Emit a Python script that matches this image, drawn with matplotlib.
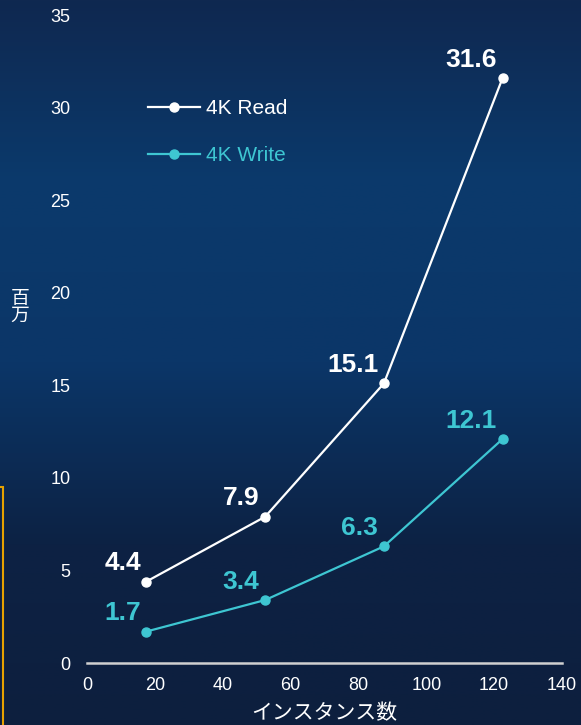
import numpy as np
import matplotlib.pyplot as plt
from matplotlib.colors import LinearSegmentedColormap
from matplotlib.patches import Rectangle

plt.rcParams['font.family'] = ['Liberation Sans', 'Noto Sans CJK JP', 'DejaVu Sans']

# data
instances = [17.5, 52.5, 87.5, 122.5]
read_vals = [4.4, 7.9, 15.1, 31.6]
write_vals = [1.7, 3.4, 6.3, 12.1]
series_names = ['4K Read', '4K Write']
x_ticks = [0, 20, 40, 60, 80, 100, 120, 140]
y_ticks = [0, 5, 10, 15, 20, 25, 30, 35]

read_color = 'white'
write_color = '#3ec6d2'

fig = plt.figure(figsize=(5.81, 7.25), dpi=100)

# background gradient
bg = fig.add_axes([0, 0, 1, 1], zorder=-10)
cmap = LinearSegmentedColormap.from_list('bg', ['#0f2850', '#0b3a6c', '#0b3668', '#0d2244', '#0d1f3e'])
grad = np.linspace(0, 1, 256).reshape(-1, 1)
bg.imshow(grad, aspect='auto', cmap=cmap, extent=[0, 1, 0, 1])
bg.axis('off')

# partial orange frame at the left edge
fig.patches.append(Rectangle((-0.02, -0.02), 0.025, 0.328 + 0.02, transform=fig.transFigure,
                             fill=False, edgecolor='#e6a100', linewidth=1.5))

ax = fig.add_axes([87 / 581, 1 - 663 / 725, 475 / 581, 648 / 725])
ax.patch.set_alpha(0)

ax.plot(instances, read_vals, color=read_color, lw=1.6, marker='o', ms=6.5, label=series_names[0])
ax.plot(instances, write_vals, color=write_color, lw=1.6, marker='o', ms=6.5, label=series_names[1])

for x, y in zip(instances, read_vals):
    ax.annotate(f'{y}', (x, y), xytext=(-4, 4.5), textcoords='offset points',
                ha='right', va='bottom', color=read_color, fontsize=19, fontweight='bold')
for x, y in zip(instances, write_vals):
    ax.annotate(f'{y}', (x, y), xytext=(-4, 4.5), textcoords='offset points',
                ha='right', va='bottom', color=write_color, fontsize=19, fontweight='bold')

ax.set_xlim(0, 140)
ax.set_ylim(0, 35)
ax.set_xticks(x_ticks)
ax.set_yticks(y_ticks)
ax.tick_params(axis='both', length=0, colors='white', labelsize=13)
ax.tick_params(axis='x', pad=10)
ax.tick_params(axis='y', pad=12)
ax.set_xticks([0], minor=True)
ax.tick_params(axis='x', which='minor', direction='in', length=4, width=1.5, color='#d0d0d0')

for s in ['top', 'right', 'left']:
    ax.spines[s].set_visible(False)
ax.spines['bottom'].set_color('#d0d0d0')
ax.spines['bottom'].set_linewidth(1.8)

ax.set_xlabel('インスタンス数', color='white', fontsize=15, labelpad=7)
fig.text(20 / 581, 1 - 308 / 725, '百\n万', color='white', fontsize=13.5,
         ha='center', va='center', linespacing=1.0)

leg = ax.legend(loc='upper left', bbox_to_anchor=(0.11, 0.883), frameon=False,
                fontsize=15, handlelength=2.5, handletextpad=0.3, labelspacing=1.35,
                labelcolor='linecolor', borderaxespad=0)

fig.savefig('out.png', dpi=100)
